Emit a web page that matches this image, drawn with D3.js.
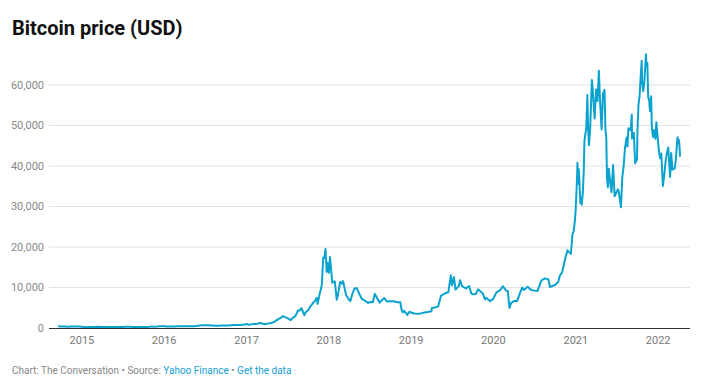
<!DOCTYPE html>
<html>
<head>
<meta charset="utf-8">
<script src="https://cdn.jsdelivr.net/npm/d3@7"></script>
<style>
  body { margin: 0; background: #fff; }
  text { font-family: Roboto, "Noto Sans", sans-serif; }
</style>
</head>
<body>
<svg width="703" height="387"></svg>
<script>
// daily closes thinned out by hand (USD)
var dates = [
  "2014-09-17","2014-10-01","2014-10-15","2014-11-01","2014-11-15","2014-12-01","2014-12-15",
  "2015-01-01","2015-01-14","2015-02-01","2015-02-15","2015-03-01","2015-03-15","2015-04-01","2015-04-15",
  "2015-05-01","2015-05-15","2015-06-01","2015-06-15","2015-07-01","2015-07-15","2015-08-01","2015-08-15",
  "2015-09-01","2015-09-15","2015-10-01","2015-10-15","2015-11-01","2015-11-04","2015-11-15","2015-12-01","2015-12-15",
  "2016-01-01","2016-01-15","2016-02-01","2016-02-15","2016-03-01","2016-03-15","2016-04-01","2016-04-15",
  "2016-05-01","2016-05-15","2016-06-01","2016-06-15","2016-07-01","2016-07-15","2016-08-01","2016-08-15",
  "2016-09-01","2016-09-15","2016-10-01","2016-10-15","2016-11-01","2016-11-15","2016-12-01","2016-12-15",
  "2017-01-01","2017-01-11","2017-01-20","2017-02-01","2017-02-15","2017-03-01","2017-03-10","2017-03-24",
  "2017-04-01","2017-04-15","2017-05-01","2017-05-10","2017-05-25","2017-06-01","2017-06-11","2017-06-20",
  "2017-07-01","2017-07-16","2017-07-25","2017-08-01","2017-08-10","2017-08-17","2017-08-25","2017-09-01",
  "2017-09-14","2017-09-20","2017-10-01","2017-10-12","2017-10-20","2017-11-01","2017-11-08","2017-11-12",
  "2017-11-20","2017-11-28","2017-12-01","2017-12-07","2017-12-12","2017-12-17","2017-12-22","2017-12-26",
  "2018-01-01","2018-01-06","2018-01-16","2018-01-27","2018-02-05","2018-02-10","2018-02-20","2018-03-01",
  "2018-03-05","2018-03-18","2018-03-31","2018-04-06","2018-04-15","2018-04-24","2018-05-05","2018-05-15",
  "2018-05-28","2018-06-10","2018-06-24","2018-07-01","2018-07-15","2018-07-24","2018-08-01","2018-08-14",
  "2018-08-28","2018-09-04","2018-09-15","2018-10-01","2018-10-15","2018-11-01","2018-11-14","2018-11-20",
  "2018-11-25","2018-12-01","2018-12-15","2018-12-24",
  "2019-01-01","2019-01-15","2019-02-01","2019-02-15","2019-03-01","2019-03-15","2019-04-01","2019-04-03",
  "2019-04-15","2019-05-01","2019-05-14","2019-05-20","2019-06-01","2019-06-15","2019-06-26","2019-07-01",
  "2019-07-10","2019-07-17","2019-08-01","2019-08-06","2019-08-15","2019-09-01","2019-09-15","2019-09-25",
  "2019-10-01","2019-10-15","2019-10-25","2019-11-01","2019-11-15","2019-11-25","2019-12-01","2019-12-17","2019-12-31",
  "2020-01-15","2020-02-01","2020-02-12","2020-02-25","2020-03-05","2020-03-12","2020-03-20","2020-04-01",
  "2020-04-15","2020-04-29","2020-05-08","2020-05-15","2020-06-01","2020-06-15","2020-07-01","2020-07-15",
  "2020-08-01","2020-08-17","2020-09-01","2020-09-08","2020-09-21","2020-10-01","2020-10-15","2020-10-21",
  "2020-11-01","2020-11-08","2020-11-17","2020-11-25","2020-12-01","2020-12-10","2020-12-17","2020-12-22",
  "2020-12-27","2020-12-31",
  "2021-01-03","2021-01-06","2021-01-08","2021-01-11","2021-01-14","2021-01-17","2021-01-21","2021-01-24",
  "2021-01-27","2021-02-01","2021-02-05","2021-02-08","2021-02-12","2021-02-16","2021-02-21","2021-02-24",
  "2021-02-28","2021-03-05","2021-03-09","2021-03-13","2021-03-18","2021-03-25","2021-04-01","2021-04-07",
  "2021-04-13","2021-04-18","2021-04-25","2021-05-01","2021-05-08","2021-05-12","2021-05-16","2021-05-19",
  "2021-05-23","2021-05-27","2021-06-01","2021-06-08","2021-06-15","2021-06-22","2021-07-01","2021-07-06",
  "2021-07-10","2021-07-20","2021-07-26","2021-08-01","2021-08-07","2021-08-14","2021-08-18","2021-08-22",
  "2021-09-01","2021-09-06","2021-09-07","2021-09-15","2021-09-21","2021-09-29","2021-10-01","2021-10-06",
  "2021-10-11","2021-10-15","2021-10-20","2021-10-22","2021-10-27","2021-11-01","2021-11-08","2021-11-10",
  "2021-11-14","2021-11-18","2021-11-22","2021-11-26","2021-12-01","2021-12-04","2021-12-10","2021-12-15",
  "2021-12-20","2021-12-24","2021-12-31",
  "2022-01-05","2022-01-10","2022-01-15","2022-01-22","2022-01-28","2022-02-04","2022-02-10","2022-02-15",
  "2022-02-23","2022-02-28","2022-03-05","2022-03-10","2022-03-15","2022-03-20","2022-03-28","2022-03-31",
  "2022-04-03","2022-04-05","2022-04-07","2022-04-08"
];
var prices = [
  457,384,394,325,348,379,345,
  315,178,226,234,260,285,247,220,
  232,237,223,236,258,286,281,261,
  228,230,238,255,326,403,320,378,463,
  434,376,372,401,435,416,417,429,
  452,457,537,695,676,664,606,567,
  572,607,614,638,729,711,752,777,
  998,785,895,989,1011,1222,1112,937,
  1079,1180,1421,1756,2304,2453,2958,2705,
  2434,1929,2554,2718,3420,4330,4350,4892,
  3154,3905,4403,5430,5984,6767,7459,5950,
  8200,9907,10975,17390,17276,19497,13831,16099,
  13657,17527,11188,11524,6955,8129,11403,10951,
  11573,8223,6973,6636,8355,9697,9858,8504,
  7118,6768,6173,6404,6358,8424,7605,6274,
  7096,7366,6543,6604,6597,6376,6351,4452,
  3880,4215,3236,4017,
  3843,3569,3487,3618,3814,3924,4158,4955,
  5036,5350,8004,8198,8574,8829,13017,10583,
  12567,9477,10399,11796,10360,9758,10363,8500,
  8344,8374,9551,9199,8502,7047,7424,6640,7193,
  8819,9393,10326,9316,9079,4971,6191,6642,
  6640,8803,9986,9386,10167,9450,9228,9159,
  11759,12255,11970,10131,10417,10620,11425,12823,
  13737,15479,17645,19167,18803,18324,23242,23824,
  26272,29001,
  32782,36825,40797,35566,39187,35792,30825,32289,
  30432,33537,38903,46196,47909,49200,57539,49706,
  45137,48882,54824,61243,57858,51704,58918,56048,
  63503,56216,49004,57829,58803,49150,46760,37002,
  34770,39294,36684,33560,40218,32505,33572,34235,
  33824,29807,37289,39974,44555,47047,44801,49321,
  48848,52677,46811,48176,40693,41564,48200,55362,
  57484,61673,65992,60694,58482,61005,67567,64949,
  65466,56942,56289,53569,57229,49368,47128,48880,
  46707,50822,46306,
  43504,41911,43097,35071,37716,41574,43565,44575,
  37296,43193,39105,39338,39338,41247,47128,45538,
  46407,45555,43503,42287
];
var yTicks = [0, 10000, 20000, 30000, 40000, 50000, 60000];
var xTicks = ["2015","2016","2017","2018","2019","2020","2021","2022"];

var svg = d3.select("svg");
var parse = d3.timeParse("%Y-%m-%d");
var data = dates.map(function (d, i) {
  return { date: parse(d), value: prices[i] };
});

var x = d3.scaleTime()
  .domain([parse("2014-09-17"), parse("2022-04-08")])
  .range([58, 680]);
var y = d3.scaleLinear().domain([0, 60000]).range([328, 85]);

var left = 49, right = 690;

svg.append("text")
  .attr("x", 12).attr("y", 35)
  .style("font-size", "20px").style("font-weight", "bold")
  .style("fill", "#111")
  .text("Bitcoin price (USD)");

// grid
svg.append("g").selectAll("line")
  .data(yTicks.slice(1))
  .enter().append("line")
  .attr("x1", left).attr("x2", right)
  .attr("y1", function (d) { return y(d); })
  .attr("y2", function (d) { return y(d); })
  .style("stroke", "#e3e3e3").style("stroke-width", 1);

svg.append("g").selectAll("text")
  .data(yTicks)
  .enter().append("text")
  .attr("x", 44)
  .attr("y", function (d) { return y(d); })
  .attr("dy", "0.35em")
  .attr("text-anchor", "end")
  .style("font-size", "11px").style("fill", "#888")
  .text(function (d) { return d3.format(",")(d); });

svg.append("g").selectAll("text")
  .data(xTicks)
  .enter().append("text")
  .attr("x", function (d) { return x(parse(d + "-01-01")); })
  .attr("y", 344)
  .attr("text-anchor", "middle")
  .style("font-size", "11px").style("fill", "#777")
  .text(function (d) { return d; });

var line = d3.line()
  .x(function (d) { return x(d.date); })
  .y(function (d) { return y(d.value); });

svg.append("path")
  .datum(data)
  .attr("d", line)
  .style("fill", "none")
  .style("stroke", "#0aa2cf")
  .style("stroke-width", 2)
  .style("stroke-linejoin", "round");

svg.append("line")
  .attr("x1", left).attr("x2", right)
  .attr("y1", y(0) + 0.5).attr("y2", y(0) + 0.5)
  .style("stroke", "#333").style("stroke-width", 1);

var foot = svg.append("text")
  .attr("x", 12).attr("y", 374)
  .style("font-size", "10px").style("fill", "#888");
foot.append("tspan").text("Chart: The Conversation \u2022 Source: ");
foot.append("tspan").style("fill", "#16a0d4").text("Yahoo Finance");
foot.append("tspan").text(" \u2022 ");
foot.append("tspan").style("fill", "#16a0d4").text("Get the data");
</script>
</body>
</html>
